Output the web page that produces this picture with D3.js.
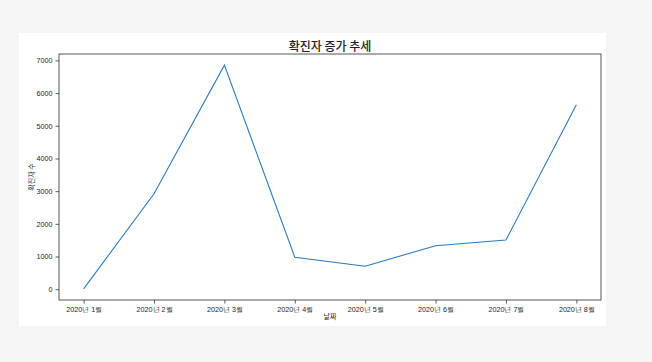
<!DOCTYPE html>
<html>
<head>
<meta charset="utf-8">
<script src="https://cdn.jsdelivr.net/npm/d3@7"></script>
<style>
  html, body { margin: 0; padding: 0; background: #f5f5f5; }
  svg { display: block; font-family: "Noto Sans CJK KR", "Noto Sans", sans-serif; }
</style>
</head>
<body>
<svg id="chart" width="652" height="362"></svg>
<script>
const months = ['2020년 1월', '2020년 2월', '2020년 3월', '2020년 4월', '2020년 5월', '2020년 6월', '2020년 7월', '2020년 8월'];
const cases = [11, 2920, 6855, 979, 703, 1331, 1506, 5642];
const yTicks = [0, 1000, 2000, 3000, 4000, 5000, 6000, 7000];

const svg = d3.select('#chart');

// white figure panel
svg.append('rect')
  .attr('x', 19).attr('y', 33)
  .attr('width', 587).attr('height', 293)
  .attr('fill', '#fff');

const mLeft = 59, mRight = 601, mTop = 54, mBottom = 300;

// matplotlib style 5% margins
const x = d3.scaleLinear()
  .domain([-0.35, months.length - 1 + 0.35])
  .range([mLeft, mRight]);
const yMin = d3.min(cases), yMax = d3.max(cases);
const pad = (yMax - yMin) * 0.05;
const y = d3.scaleLinear()
  .domain([yMin - pad, yMax + pad])
  .range([mBottom, mTop]);

const xAxis = svg.append('g')
  .attr('transform', 'translate(0,' + mBottom + ')')
  .call(d3.axisBottom(x)
    .tickValues(d3.range(months.length))
    .tickFormat(i => months[i])
    .tickSize(3.5).tickPadding(3));

const yAxis = svg.append('g')
  .attr('transform', 'translate(' + mLeft + ',0)')
  .call(d3.axisLeft(y).tickValues(yTicks).tickFormat(d3.format('d'))
    .tickSize(3.5).tickPadding(3));

[xAxis, yAxis].forEach(g => {
  g.select('.domain').remove();
  g.selectAll('line').attr('stroke', '#333').attr('stroke-width', 0.8);
  g.selectAll('text').attr('fill', '#222').style('font-size', '7.2px');
});

// frame
svg.append('rect')
  .attr('x', mLeft).attr('y', mTop)
  .attr('width', mRight - mLeft).attr('height', mBottom - mTop)
  .attr('fill', 'none')
  .attr('stroke', '#444')
  .attr('stroke-width', 0.9);

const line = d3.line()
  .x((d, i) => x(i))
  .y(d => y(d));

svg.append('path')
  .datum(cases)
  .attr('d', line)
  .attr('fill', 'none')
  .attr('stroke', '#2a7bbd')
  .attr('stroke-width', 1.1);

svg.append('text')
  .attr('x', (mLeft + mRight) / 2).attr('y', 51)
  .attr('text-anchor', 'middle')
  .attr('fill', '#222')
  .style('font-size', '12px')
  .style('font-weight', '500')
  .text('확진자 증가 추세');

svg.append('text')
  .attr('x', (mLeft + mRight) / 2).attr('y', 319)
  .attr('text-anchor', 'middle')
  .attr('fill', '#222')
  .style('font-size', '7px')
  .text('날짜');

svg.append('text')
  .attr('transform', 'translate(34,' + (mTop + mBottom) / 2 + ') rotate(-90)')
  .attr('text-anchor', 'middle')
  .attr('fill', '#222')
  .style('font-size', '7px')
  .text('확진자 수');
</script>
</body>
</html>
